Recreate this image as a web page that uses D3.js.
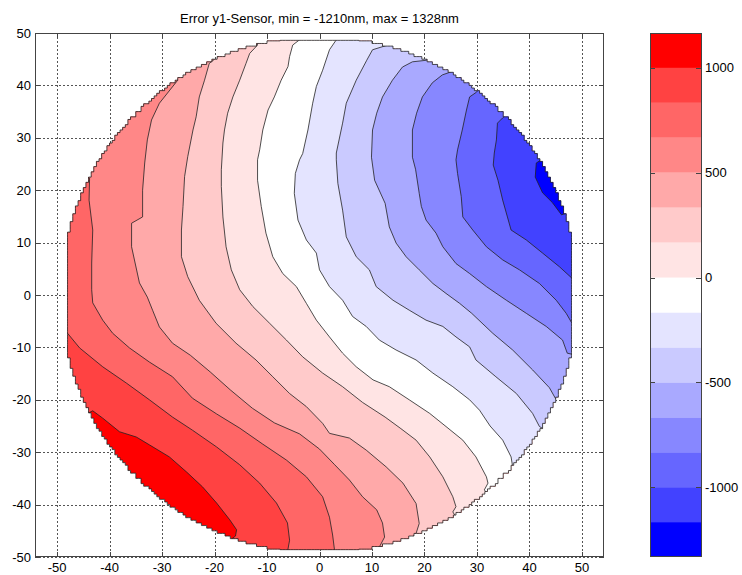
<!DOCTYPE html>
<html>
<head>
<meta charset="utf-8">
<script src="https://cdn.jsdelivr.net/npm/d3@7"></script>
<style>
  body { margin: 0; background: #fff; }
  svg { display: block; font-family: "Liberation Sans", Arial, sans-serif; }
</style>
</head>
<body>
<svg id="chart" width="742" height="575"></svg>
<script>
const titleText = "Error y1-Sensor, min = -1210nm, max = 1328nm";
const xTicks = [-50, -40, -30, -20, -10, 0, 10, 20, 30, 40, 50];
const yTicks = [-50, -40, -30, -20, -10, 0, 10, 20, 30, 40, 50];
const cbTicks = [-1000, -500, 0, 500, 1000];
const cbMin = -1333.3, cbMax = 1166.7;

// contour levels, one per drawn line (high -> low)
const contourLevels = [1000, 833.3, 666.7, 500, 333.3, 166.7, 0, -166.7, -333.3, -500, -666.7, -833.3, -1000, -1166.7];
// band colours, high -> low
const bandColors = ["#ff0000", "#ff4242", "#ff6666", "#ff8787", "#ffa9a9", "#ffcaca", "#ffe4e4", "#ffffff",
  "#e4e4ff", "#cacaff", "#a9a9ff", "#8787ff", "#6666ff", "#4242ff", "#0000ff"];

// wafer outline
const waferRadius = 49.3, waferFlatX = 48, waferFlatY = 48.6, waferStep = 0.5;

// contour lines (mm), each from its upper end to its lower end
const line1000 = [[-43.2,-22.1],[-41.3,-23.5],[-38.1,-26.1],[-34.9,-27.1],[-32.4,-28.6],[-28.6,-30.9],[-25.3,-33.8],[-22.3,-36.6],[-19.6,-39.7],[-17.1,-42.9],[-15.8,-44.8],[-16.0,-46.0],[-16.8,-46.6]];
const line833 = [[-48.0,-7.3],[-45.7,-10.1],[-41.3,-13.7],[-36.8,-16.8],[-32.4,-20.0],[-28.0,-23.3],[-24.2,-25.8],[-19.6,-29.0],[-15.2,-32.4],[-11.4,-35.9],[-8.2,-39.7],[-6.1,-43.5],[-5.7,-46.8],[-6.1,-49.0]];
const line667 = [[-43.8,22.3],[-43.9,18.1],[-43.2,12.4],[-43.4,6.1],[-43.4,1.0],[-43.2,-1.5],[-41.3,-4.8],[-39.4,-7.3],[-36.2,-10.1],[-32.4,-12.8],[-28.0,-15.6],[-24.2,-19.7],[-19.6,-22.7],[-15.2,-25.4],[-10.9,-28.4],[-6.3,-31.5],[-2.5,-34.7],[0.6,-38.5],[1.9,-42.4],[2.5,-45.8],[2.9,-49.0]];
const line500 = [[-27.0,41.0],[-30.5,36.6],[-32.0,33.4],[-32.8,29.6],[-33.3,25.2],[-33.7,20.0],[-33.7,14.9],[-35.8,13.7],[-35.8,9.2],[-34.3,2.3],[-32.8,-0.4],[-31.8,-2.9],[-30.5,-6.1],[-28.0,-9.2],[-24.6,-11.5],[-20.8,-14.7],[-17.0,-18.1],[-12.8,-21.6],[-8.6,-24.4],[-3.8,-26.5],[0,-29.4],[2.9,-32.4],[5.7,-35.3],[8.2,-38.5],[10.9,-41.0],[12.0,-43.5],[12.4,-46.2],[11.4,-48.1],[9.9,-49.0]];
const line333 = [[-19.0,45.8],[-21.0,44.2],[-21.9,41.0],[-22.9,37.8],[-23.5,34.0],[-24.1,31.5],[-25.1,26.4],[-25.7,22.6],[-26.0,16.9],[-26.3,12.4],[-26.3,7.3],[-25.1,3.5],[-22.9,-1.0],[-19.7,-5.4],[-15.9,-9.2],[-12.1,-12.4],[-8.9,-15.6],[-5.7,-18.8],[-2.5,-21.3],[0.6,-24.5],[1.9,-26.4],[5.7,-27.3],[8.9,-29.6],[12.7,-32.8],[15.9,-35.9],[18.4,-39.8],[19.0,-43.6],[18.4,-45.5],[17.5,-46.4]];
const line167 = [[-11.8,47.7],[-13.3,46.1],[-14.0,44.2],[-15.2,41.0],[-16.5,37.8],[-17.5,34.7],[-18.1,31.5],[-18.4,29.0],[-18.7,23.9],[-18.7,20.7],[-18.4,14.9],[-17.8,9.2],[-16.8,4.8],[-15.2,1.0],[-12.7,-2.2],[-9.5,-5.4],[-6.3,-8.6],[-3.2,-11.8],[0.6,-14.9],[4.4,-17.5],[8.2,-20.5],[12.5,-23.3],[15.5,-25.5],[18.4,-27.7],[21.0,-30.9],[23.5,-34.7],[25.4,-38.5],[26.0,-40.4],[25.4,-41.4]];
const line0 = [[-3.8,48.7],[-5.1,47.7],[-5.7,45.5],[-6.0,43.6],[-7.3,41.0],[-8.6,37.8],[-9.8,35.3],[-10.8,31.5],[-11.4,27.7],[-11.8,25.8],[-11.8,21.9],[-11.1,16.9],[-10.2,11.8],[-8.9,7.3],[-7.0,4.1],[-4.4,1.6],[-2.5,-1.6],[-0.6,-4.8],[1.9,-8.0],[4.4,-11.1],[7.0,-13.7],[10.2,-16.2],[13.3,-17.5],[17.1,-20.0],[21.0,-22.6],[24.1,-25.1],[27.3,-27.7],[29.8,-30.9],[31.8,-34.7],[32.1,-35.9],[31.4,-37.2]];
const lineM167 = [[3.2,48.7],[1.9,46.8],[0.6,42.9],[-0.6,39.8],[-1.3,36.6],[-2.2,31.5],[-3.2,27.0],[-3.8,25.8],[-4.6,23.2],[-4.8,19.4],[-4.1,14.3],[-2.5,10.5],[-0.6,8.0],[0,4.8],[1.9,1.6],[4.4,-1.0],[6.3,-4.1],[8.9,-6.0],[11.4,-8.6],[14.6,-10.5],[18.4,-12.4],[21.6,-14.9],[25.4,-17.5],[28.6,-20.0],[30.5,-22.0],[32.5,-25.0],[34.9,-27.7],[36.5,-30.9],[36.8,-32.8]];
const lineM333 = [[13.0,47.7],[10.1,46.8],[9.0,44.8],[7.0,41.0],[5.1,36.6],[4.4,32.8],[3.2,27.1],[3.2,25.8],[3.5,21.3],[4.4,16.2],[5.1,11.1],[7.0,7.3],[9.5,4.8],[10.8,1.6],[14.0,-1.0],[17.1,-2.9],[20.3,-4.8],[23.5,-6.0],[26.0,-8.0],[28.6,-9.9],[29.8,-12.4],[33.6,-15.6],[37.5,-18.8],[40.6,-22.6],[41.9,-25.1]];
const lineM500 = [[20.4,44.8],[17.7,44.5],[15.8,43.5],[13.9,41.0],[12.0,37.8],[10.9,34.7],[10.1,31.5],[9.9,26.3],[10.5,21.9],[12.5,17.5],[13.3,13.0],[14.6,9.9],[16.5,7.3],[19.0,4.8],[21.6,2.2],[24.1,0.3],[26.7,-1.6],[29.0,-3.5],[33.0,-7.3],[36.8,-10.5],[40.6,-14.3],[43.8,-17.7],[45.1,-20.0]];
const lineM667 = [[25.1,42.6],[23.4,42.0],[21.5,40.5],[19.6,37.8],[18.5,34.7],[17.7,31.5],[17.7,26.3],[18.3,24.0],[19.0,19.4],[19.4,16.9],[20.3,14.3],[22.2,11.8],[23.5,9.2],[26.0,6.0],[28.6,4.1],[31.8,1.6],[35.6,-1.0],[39.4,-3.5],[43.2,-6.0],[46.3,-8.6],[47.2,-11.1]];
const lineM833 = [[29.9,38.7],[28.6,37.8],[28.0,35.3],[27.2,31.5],[26.3,27.7],[26.0,25.8],[26.3,23.2],[27.0,18.8],[27.3,14.9],[29.2,12.4],[31.8,9.2],[34.9,6.7],[38.1,4.8],[41.9,2.2],[45.1,-1.0],[47.0,-3.5],[48.1,-5.4]];
const lineM1000 = [[34.9,33.8],[33.9,32.8],[33.7,29.6],[33.3,27.1],[33.1,24.8],[34.0,21.9],[34.9,18.1],[36.5,12.4],[39.4,10.5],[42.5,8.0],[45.7,5.4],[48.1,3.2]];
const lineM1167 = [[41.3,25.2],[41.1,22.5],[42.5,19.5],[44.4,17.6],[46.1,15.3]];

const contourLines = [line1000, line833, line667, line500, line333, line167, line0,
  lineM167, lineM333, lineM500, lineM667, lineM833, lineM1000, lineM1167];

const svg = d3.select("#chart");
const x = d3.scaleLinear().domain([-54.2, 54.2]).range([35, 604]);
const y = d3.scaleLinear().domain([-50, 50]).range([557, 33]);
const cb = d3.scaleLinear().domain([cbMin, cbMax]).range([557, 33]);

const levelsAsc = contourLevels.slice().sort(d3.ascending);
const colorsAsc = bandColors.slice().reverse();
const color = d3.scaleThreshold().domain(levelsAsc).range(colorsAsc);

const px = v => Math.round(x(v)) + 0.5;
const py = v => Math.round(y(v)) + 0.5;
const path = d3.line().x(d => x(d[0])).y(d => y(d[1]));

// grid
const grid = svg.append("g").attr("stroke", "#555").attr("stroke-dasharray", "2,2").attr("stroke-width", 1);
xTicks.forEach(t => grid.append("line").attr("x1", px(t)).attr("x2", px(t)).attr("y1", 33).attr("y2", 557));
yTicks.forEach(t => grid.append("line").attr("y1", py(t)).attr("y2", py(t)).attr("x1", 35).attr("x2", 604));

// wafer outline, stepped like the measurement grid
function waferPoints() {
  const raw = d3.range(0, 360, 0.5).map(a => {
    const t = a * Math.PI / 180;
    const sx = Math.round(waferRadius * Math.cos(t) / waferStep) * waferStep;
    const sy = Math.round(waferRadius * Math.sin(t) / waferStep) * waferStep;
    return [Math.max(-waferFlatX, Math.min(waferFlatX, sx)), Math.max(-waferFlatY, Math.min(waferFlatY, sy))];
  });
  const pts = [];
  raw.forEach(p => {
    const q = pts[pts.length - 1];
    if (q && q[0] === p[0] && q[1] === p[1]) return;
    if (q && q[0] !== p[0] && q[1] !== p[1]) {
      const c1 = [q[0], p[1]], c2 = [p[0], q[1]];
      pts.push(Math.hypot(c1[0], c1[1]) < Math.hypot(c2[0], c2[1]) ? c1 : c2);
    }
    pts.push(p);
  });
  return pts;
}
const wafer = waferPoints();
const waferPath = path(wafer) + "Z";

svg.append("defs").append("clipPath").attr("id", "wafer-clip")
  .append("path").attr("d", waferPath);

const plot = svg.append("g").attr("clip-path", "url(#wafer-clip)");

// everything above the top level first
plot.append("path").attr("d", waferPath).attr("fill", color(cbMax));

// region on the low side of each line, closed by an arc outside the wafer
const R = 80;
function lowSide(line) {
  const s = line[0], e = line[line.length - 1];
  const ts = Math.atan2(s[1], s[0]);
  let te = Math.atan2(e[1], e[0]);
  while (te >= ts) te -= 2 * Math.PI;
  const arc = d3.range(te, ts, 0.05).concat([ts]).map(t => [R * Math.cos(t), R * Math.sin(t)]);
  return line.concat(arc);
}
function extend(p, r) {
  const k = r / Math.hypot(p[0], p[1]);
  return [p[0] * k, p[1] * k];
}

contourLines.forEach((line, i) => {
  plot.append("path")
    .attr("d", path(lowSide(line)) + "Z")
    .attr("fill", color(contourLevels[i] - 1));
});

contourLines.forEach(line => {
  const full = [extend(line[0], 53)].concat(line, [extend(line[line.length - 1], 53)]);
  plot.append("path")
    .attr("d", path(full))
    .attr("fill", "none")
    .attr("stroke", "#222")
    .attr("stroke-width", 0.8);
});

svg.append("path").attr("d", waferPath).attr("fill", "none").attr("stroke", "#222").attr("stroke-width", 0.8);

// axes box and ticks
const axes = svg.append("g").attr("stroke", "#444").attr("stroke-width", 1);
axes.append("rect").attr("x", 35.5).attr("y", 33.5).attr("width", 568).attr("height", 523).attr("fill", "none");
xTicks.forEach(t => {
  axes.append("line").attr("x1", px(t)).attr("x2", px(t)).attr("y1", 557).attr("y2", 552);
  axes.append("line").attr("x1", px(t)).attr("x2", px(t)).attr("y1", 33).attr("y2", 38);
});
yTicks.forEach(t => {
  axes.append("line").attr("y1", py(t)).attr("y2", py(t)).attr("x1", 35).attr("x2", 40);
  axes.append("line").attr("y1", py(t)).attr("y2", py(t)).attr("x1", 604).attr("x2", 599);
});

const labels = svg.append("g").attr("font-size", 13).attr("fill", "#000");
xTicks.forEach(t => labels.append("text").attr("x", x(t)).attr("y", 572)
  .attr("text-anchor", "middle").text(t));
yTicks.forEach(t => labels.append("text").attr("x", 31).attr("y", y(t))
  .attr("dy", "0.35em").attr("text-anchor", "end").text(t));

svg.append("text").attr("x", 319.5).attr("y", 23).attr("text-anchor", "middle")
  .attr("font-size", 13).text(titleText);

// colorbar
const cbX = 650, cbW = 51;
const edges = [cbMin].concat(levelsAsc, [cbMax]);
const cbg = svg.append("g");
colorsAsc.forEach((c, i) => {
  cbg.append("rect").attr("x", cbX).attr("width", cbW)
    .attr("y", cb(edges[i + 1])).attr("height", cb(edges[i]) - cb(edges[i + 1]))
    .attr("fill", c);
});
cbg.append("rect").attr("x", cbX + 0.5).attr("y", 33.5).attr("width", cbW).attr("height", 523)
  .attr("fill", "none").attr("stroke", "#444");
cbTicks.forEach(t => {
  const ty = Math.round(cb(t)) + 0.5;
  cbg.append("line").attr("x1", cbX).attr("x2", cbX + 5).attr("y1", ty).attr("y2", ty).attr("stroke", "#444");
  cbg.append("line").attr("x1", cbX + cbW).attr("x2", cbX + cbW - 5).attr("y1", ty).attr("y2", ty).attr("stroke", "#444");
  cbg.append("text").attr("x", cbX + cbW + 4).attr("y", cb(t)).attr("dy", "0.35em")
    .attr("font-size", 13).text(t);
});
</script>
</body>
</html>
